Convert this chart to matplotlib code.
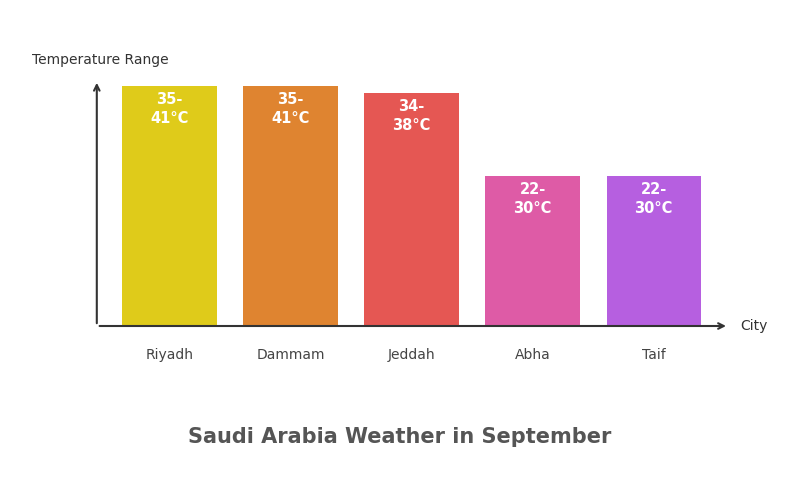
import matplotlib.pyplot as plt

cities = ['Riyadh', 'Dammam', 'Jeddah', 'Abha', 'Taif']
bar_heights = [240, 240, 233, 150, 150]
range_labels = ['35-\n41°C', '35-\n41°C', '34-\n38°C', '22-\n30°C', '22-\n30°C']
colors = ['#DFCB1A', '#DF8430', '#E55753', '#DE5BA6', '#B65FE0']

fig = plt.figure(figsize=(8, 5), dpi=100)
ax = fig.add_axes([0.121, 0.348, 0.79, 0.492])
x = list(range(len(cities)))
ax.bar(x, bar_heights, width=0.78, color=colors)
for xi, h, lab in zip(x, bar_heights, range_labels):
    ax.text(xi, h - 6, lab, ha='center', va='top', color='white',
            fontsize=10.5, fontweight='bold', linespacing=1.3)

ax.set_xlim(-0.6, 4.62)
ax.set_ylim(0, 246)
for s in ax.spines.values():
    s.set_visible(False)
ax.set_xticks([])
ax.set_yticks([])
ax.annotate('', xy=(4.62, 0), xytext=(-0.6, 0), annotation_clip=False,
            arrowprops=dict(arrowstyle='->', color='#333333', lw=1.5))
ax.annotate('', xy=(-0.6, 246), xytext=(-0.6, 0), annotation_clip=False,
            arrowprops=dict(arrowstyle='->', color='#333333', lw=1.5))
for xi, c in zip(x, cities):
    ax.text(xi, -29, c, ha='center', va='center', color='#444444', fontsize=10)
fig.text(0.925, 0.348, 'City', ha='left', va='center', color='#333333', fontsize=10)
fig.text(0.04, 0.88, 'Temperature Range', ha='left', va='center', color='#333333', fontsize=10)
fig.text(0.5, 0.126, 'Saudi Arabia Weather in September', ha='center', va='center',
         color='#555555', fontsize=15, fontweight='bold')
fig.savefig('out.png', dpi=100)
